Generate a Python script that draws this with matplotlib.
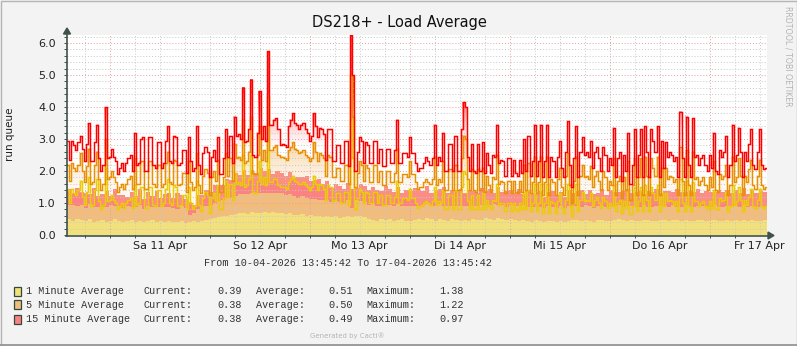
import numpy as np
import matplotlib

matplotlib.use("Agg")
import matplotlib.pyplot as plt
from matplotlib.colors import to_rgb
from matplotlib.lines import Line2D
from matplotlib.patches import Polygon, Rectangle

# stacked average areas, hourly, 10-04-2026 13:45:42 .. 17-04-2026 13:45:42
load_1min_area = [
    0.5, 0.45, 0.5, 0.48, 0.45, 0.5, 0.42, 0.45, 0.48, 0.42, 0.45, 0.5, 0.45, 0.42, 0.45, 0.48, 0.42, 0.45, 0.4, 0.45, 0.48, 0.42, 0.45, 0.42,
    0.45, 0.4, 0.42, 0.45, 0.38, 0.42, 0.45, 0.4, 0.45, 0.48, 0.5, 0.52, 0.55, 0.58, 0.6, 0.62, 0.65, 0.68, 0.7, 0.66, 0.72, 0.7, 0.68, 0.72,
    0.7, 0.72, 0.68, 0.7, 0.66, 0.68, 0.64, 0.62, 0.65, 0.6, 0.62, 0.58, 0.6, 0.56, 0.58, 0.55, 0.6, 0.52, 0.55, 0.6, 0.55, 0.58, 0.6, 0.55,
    0.5, 0.48, 0.45, 0.5, 0.46, 0.5, 0.45, 0.48, 0.5, 0.45, 0.44, 0.46, 0.5, 0.48, 0.52, 0.5, 0.45, 0.5, 0.48, 0.45, 0.5, 0.46, 0.45, 0.48,
    0.45, 0.5, 0.46, 0.48, 0.52, 0.5, 0.48, 0.52, 0.5, 0.46, 0.5, 0.48, 0.45, 0.48, 0.45, 0.42, 0.46, 0.44, 0.42, 0.45, 0.44, 0.42, 0.45, 0.42,
    0.45, 0.48, 0.46, 0.44, 0.48, 0.45, 0.42, 0.46, 0.48, 0.44, 0.45, 0.48, 0.5, 0.46, 0.45, 0.48, 0.44, 0.45, 0.48, 0.46, 0.44, 0.45, 0.48, 0.46,
    0.45, 0.48, 0.46, 0.44, 0.48, 0.45, 0.44, 0.48, 0.46, 0.44, 0.46, 0.48, 0.45, 0.44, 0.48, 0.45, 0.46, 0.44, 0.48, 0.45, 0.46, 0.45, 0.44, 0.46,
]
load_5min_area = [
    0.45, 0.5, 0.42, 0.45, 0.4, 0.48, 0.45, 0.42, 0.4, 0.45, 0.48, 0.4, 0.45, 0.42, 0.45, 0.4, 0.45, 0.48, 0.42, 0.45, 0.4, 0.45, 0.42, 0.45,
    0.42, 0.45, 0.4, 0.45, 0.45, 0.2, 0.25, 0.4, 0.45, 0.42, 0.45, 0.48, 0.5, 0.52, 0.55, 0.55, 0.58, 0.6, 0.58, 0.62, 0.6, 0.6, 0.62, 0.58,
    0.6, 0.58, 0.62, 0.6, 0.58, 0.6, 0.58, 0.55, 0.56, 0.55, 0.52, 0.55, 0.5, 0.52, 0.5, 0.48, 0.45, 0.5, 0.45, 0.48, 0.3, 0.5, 0.45, 0.48,
    0.45, 0.48, 0.45, 0.42, 0.48, 0.45, 0.45, 0.48, 0.42, 0.45, 0.48, 0.45, 0.42, 0.45, 0.45, 0.42, 0.45, 0.48, 0.42, 0.45, 0.42, 0.45, 0.45, 0.42,
    0.45, 0.42, 0.45, 0.45, 0.42, 0.45, 0.48, 0.42, 0.45, 0.42, 0.45, 0.42, 0.45, 0.45, 0.42, 0.45, 0.42, 0.45, 0.42, 0.45, 0.45, 0.42, 0.45, 0.42,
    0.45, 0.42, 0.45, 0.42, 0.45, 0.45, 0.42, 0.45, 0.42, 0.45, 0.45, 0.42, 0.45, 0.42, 0.45, 0.42, 0.45, 0.42, 0.45, 0.42, 0.45, 0.45, 0.42, 0.45,
    0.42, 0.45, 0.42, 0.45, 0.45, 0.42, 0.45, 0.42, 0.45, 0.45, 0.42, 0.45, 0.42, 0.45, 0.42, 0.45, 0.45, 0.42, 0.45, 0.42, 0.45, 0.42, 0.45, 0.42,
]
load_15min_area = [
    0.5, 0.35, 0.55, 0.4, 0.45, 0.3, 0.6, 0.35, 0.4, 0.5, 0.3, 0.55, 0.35, 0.4, 0.3, 0.45, 0.35, 0.5, 0.3, 0.45, 0.35, 0.5, 0.3, 0.4,
    0.45, 0.3, 0.5, 0.35, 0.3, 0.4, 0.25, 0.45, 0.35, 0.5, 0.4, 0.55, 0.5, 0.45, 0.6, 0.55, 0.7, 0.6, 0.75, 0.6, 0.7, 0.65, 0.8, 0.7,
    0.75, 0.6, 0.7, 0.65, 0.6, 0.7, 0.55, 0.65, 0.6, 0.7, 0.55, 0.6, 0.65, 0.5, 0.6, 0.45, 0.55, 0.5, 0.45, 0.55, 0.6, 0.4, 0.55, 0.5,
    0.45, 0.55, 0.5, 0.45, 0.6, 0.5, 0.45, 0.55, 0.4, 0.5, 0.45, 0.55, 0.5, 0.45, 0.55, 0.4, 0.5, 0.45, 0.6, 0.4, 0.5, 0.45, 0.55, 0.4,
    0.5, 0.45, 0.4, 0.55, 0.45, 0.5, 0.35, 0.55, 0.4, 0.5, 0.45, 0.4, 0.55, 0.35, 0.5, 0.45, 0.4, 0.5, 0.35, 0.45, 0.5, 0.4, 0.45, 0.35,
    0.5, 0.4, 0.45, 0.55, 0.35, 0.5, 0.45, 0.4, 0.55, 0.35, 0.5, 0.45, 0.4, 0.5, 0.55, 0.4, 0.45, 0.5, 0.35, 0.5, 0.45, 0.55, 0.4, 0.45,
    0.5, 0.4, 0.55, 0.45, 0.4, 0.5, 0.45, 0.55, 0.4, 0.5, 0.45, 0.4, 0.55, 0.45, 0.5, 0.4, 0.5, 0.45, 0.55, 0.4, 0.5, 0.45, 0.5, 0.45,
]

# stacked peak lines, half-hourly
peak_1min = [
    1.4, 1.0, 1.45, 1.3, 1.25, 1.4, 1.7, 1.2, 0.95, 1.35, 1.8, 0.9, 0.95, 1.4, 1.75, 1.05, 0.8, 0.95, 2.1, 1.05, 1.1, 1.25, 1.1, 1.0,
    0.8, 0.9, 1.0, 0.85, 1.0, 1.1, 1.15, 0.85, 1.55, 0.95, 1.0, 1.5, 1.5, 0.85, 0.85, 1.5, 1.5, 0.95, 0.9, 1.4, 1.4, 0.9, 1.0, 1.45,
    1.75, 1.0, 0.95, 1.55, 1.5, 0.9, 0.95, 1.25, 1.25, 0.8, 1.5, 1.0, 0.8, 0.9, 1.7, 0.95, 0.75, 1.15, 1.35, 1.25, 0.7, 1.15, 1.3, 1.05,
    1.55, 0.8, 0.8, 1.15, 1.7, 1.2, 1.6, 1.1, 1.95, 1.6, 1.65, 1.55, 2.5, 1.5, 1.55, 1.75, 2.5, 1.35, 1.3, 1.7, 2.3, 1.6, 1.8, 1.55,
    3.0, 1.65, 1.65, 1.75, 1.75, 1.55, 1.5, 1.5, 1.5, 1.45, 1.65, 1.75, 1.85, 1.7, 1.65, 1.6, 1.6, 1.65, 1.55, 1.5, 1.4, 1.5, 1.85, 1.6,
    1.4, 1.6, 1.55, 1.45, 1.1, 1.55, 1.5, 1.05, 1.1, 1.3, 1.3, 1.0, 1.0, 1.35, 1.35, 0.95, 3.6, 2.4, 0.8, 1.15, 1.45, 1.35, 1.0, 1.35,
    1.3, 1.0, 1.0, 1.35, 1.35, 1.0, 1.25, 0.95, 0.95, 1.25, 1.25, 1.0, 1.0, 1.2, 1.7, 1.0, 1.0, 1.15, 1.15, 1.1, 1.45, 1.15, 1.15, 1.0,
    0.85, 0.9, 0.9, 1.0, 1.05, 1.0, 0.95, 1.05, 1.5, 0.95, 1.05, 1.0, 1.4, 0.8, 0.8, 1.25, 1.25, 0.8, 1.4, 0.8, 0.8, 1.5, 2.0, 1.9,
    1.05, 0.8, 1.25, 0.8, 0.8, 1.25, 0.8, 1.3, 0.8, 1.1, 0.9, 0.8, 1.1, 1.05, 1.6, 0.95, 1.0, 1.0, 0.75, 1.0, 1.0, 0.75, 1.0, 0.8,
    0.75, 1.0, 0.8, 1.35, 0.8, 1.4, 0.75, 1.0, 1.6, 0.75, 1.0, 1.6, 0.7, 1.0, 1.6, 0.7, 1.05, 1.0, 0.7, 1.05, 1.3, 0.85, 0.7, 1.1,
    1.6, 0.9, 0.6, 1.0, 1.6, 0.75, 1.1, 1.35, 1.05, 1.1, 1.05, 1.3, 0.9, 1.1, 1.2, 1.0, 0.85, 1.2, 1.05, 0.85, 1.0, 0.9, 1.55, 0.75,
    1.0, 1.1, 0.7, 1.05, 0.85, 1.45, 0.65, 0.9, 1.5, 0.75, 1.05, 1.5, 0.75, 1.55, 1.1, 0.75, 1.5, 1.3, 1.1, 1.55, 0.75, 1.3, 0.9, 1.3,
    1.05, 1.1, 1.05, 0.95, 1.05, 0.75, 1.75, 1.0, 0.75, 1.7, 0.9, 0.75, 1.65, 1.05, 1.05, 0.9, 1.0, 1.05, 0.9, 0.8, 1.05, 0.85, 1.4, 0.8,
    0.8, 1.15, 1.05, 1.1, 1.35, 0.75, 0.9, 1.55, 0.95, 1.05, 1.5, 1.1, 0.75, 1.1, 0.95, 1.2, 1.45, 0.9, 0.85, 1.1, 1.45, 0.9, 0.85, 0.9,
]
peak_5min = [
    2.2, 1.7, 2.25, 2.1, 2.0, 2.2, 2.55, 2.0, 1.65, 2.15, 2.7, 1.6, 1.65, 2.2, 2.6, 1.75, 1.4, 1.6, 3.0, 1.75, 1.8, 2.0, 1.8, 1.65,
    1.35, 1.5, 1.6, 1.45, 1.6, 1.75, 1.85, 1.45, 2.4, 1.6, 1.6, 2.3, 2.3, 1.45, 1.45, 2.3, 2.3, 1.6, 1.5, 2.2, 2.2, 1.5, 1.6, 2.25,
    2.6, 1.65, 1.6, 2.35, 2.3, 1.55, 1.6, 1.95, 1.95, 1.35, 2.3, 1.65, 1.4, 1.5, 2.55, 1.55, 1.3, 1.85, 2.05, 1.95, 1.25, 1.8, 2.0, 1.7,
    2.35, 1.35, 1.35, 1.8, 2.55, 1.85, 2.4, 1.7, 2.85, 2.4, 2.45, 2.35, 3.6, 2.25, 2.3, 2.6, 3.7, 1.95, 1.9, 2.5, 3.4, 2.35, 2.65, 2.3,
    4.3, 2.65, 2.65, 2.75, 2.8, 2.5, 2.45, 2.45, 2.4, 2.35, 2.65, 2.75, 2.9, 2.7, 2.65, 2.55, 2.6, 2.65, 2.5, 2.45, 2.3, 2.4, 2.9, 2.6,
    2.3, 2.55, 2.5, 2.4, 1.85, 2.5, 2.45, 1.8, 1.8, 2.1, 2.1, 1.7, 1.7, 2.2, 2.2, 1.6, 5.0, 3.7, 1.5, 1.95, 2.3, 2.2, 1.7, 2.2,
    2.1, 1.65, 1.65, 2.2, 2.2, 1.65, 2.0, 1.55, 1.55, 2.0, 2.0, 1.65, 1.65, 1.95, 2.7, 1.65, 1.65, 1.9, 1.9, 1.8, 2.3, 1.9, 1.9, 1.65,
    1.45, 1.5, 1.5, 1.65, 1.75, 1.65, 1.6, 1.75, 2.45, 1.55, 1.75, 1.65, 2.3, 1.4, 1.4, 2.05, 2.05, 1.4, 2.2, 1.4, 1.4, 2.4, 3.1, 3.0,
    1.75, 1.4, 2.05, 1.4, 1.35, 2.05, 1.4, 2.1, 1.35, 1.85, 1.55, 1.35, 1.8, 1.75, 2.5, 1.6, 1.7, 1.65, 1.3, 1.7, 1.7, 1.3, 1.7, 1.35,
    1.3, 1.7, 1.35, 2.2, 1.4, 2.25, 1.3, 1.65, 2.45, 1.3, 1.65, 2.45, 1.25, 1.65, 2.45, 1.25, 1.75, 1.65, 1.25, 1.75, 2.1, 1.5, 1.25, 1.85,
    2.55, 1.55, 1.0, 1.7, 2.45, 1.25, 1.85, 2.2, 1.8, 1.85, 1.75, 2.15, 1.5, 1.85, 2.0, 1.7, 1.4, 2.0, 1.8, 1.4, 1.7, 1.55, 2.4, 1.25,
    1.7, 1.85, 1.15, 1.8, 1.4, 2.3, 1.1, 1.55, 2.4, 1.25, 1.8, 2.4, 1.25, 2.45, 1.85, 1.25, 2.4, 2.1, 1.85, 2.45, 1.25, 2.1, 1.5, 2.1,
    1.75, 1.85, 1.8, 1.65, 1.75, 1.25, 2.75, 1.7, 1.25, 2.65, 1.55, 1.25, 2.6, 1.75, 1.8, 1.55, 1.7, 1.8, 1.55, 1.4, 1.8, 1.5, 2.3, 1.4,
    1.35, 1.9, 1.75, 1.85, 2.2, 1.25, 1.55, 2.45, 1.65, 1.8, 2.4, 1.85, 1.25, 1.85, 1.65, 2.05, 2.35, 1.55, 1.45, 1.85, 2.35, 1.55, 1.45, 1.5,
]
peak_15min = [
    2.95, 2.35, 2.95, 2.8, 2.65, 2.9, 3.1, 2.7, 2.3, 2.85, 3.5, 2.3, 2.3, 2.9, 3.45, 2.4, 2.0, 2.2, 4.0, 2.4, 2.45, 2.7, 2.45, 2.3,
    1.9, 2.1, 2.25, 2.0, 2.25, 2.4, 2.5, 2.0, 3.2, 2.2, 2.25, 3.0, 3.05, 2.0, 2.0, 3.05, 3.05, 2.2, 2.1, 2.9, 2.9, 2.1, 2.25, 2.95,
    3.4, 2.3, 2.25, 3.1, 3.05, 2.2, 2.25, 2.65, 2.65, 1.95, 3.05, 2.3, 2.0, 2.1, 3.4, 2.2, 1.9, 2.55, 2.75, 2.6, 1.8, 2.45, 2.65, 2.3,
    3.05, 1.9, 1.9, 2.4, 3.3, 2.45, 3.1, 2.25, 3.7, 3.1, 3.15, 3.0, 4.6, 2.9, 2.95, 3.3, 4.85, 2.5, 2.45, 3.2, 4.5, 3.0, 3.4, 2.95,
    5.75, 3.45, 3.45, 3.6, 3.65, 3.3, 2.8, 2.85, 2.8, 2.75, 3.4, 3.6, 3.8, 3.5, 3.45, 3.3, 3.45, 3.5, 3.3, 3.2, 2.95, 3.1, 3.8, 3.4,
    3.05, 3.35, 3.3, 3.15, 2.35, 3.3, 3.3, 2.3, 2.3, 2.8, 2.8, 2.25, 2.25, 2.95, 2.95, 2.15, 6.25, 5.0, 2.0, 2.6, 3.05, 2.95, 2.25, 2.9,
    2.8, 2.25, 2.25, 2.95, 2.95, 2.25, 2.7, 2.15, 2.15, 2.7, 2.7, 2.25, 2.25, 2.65, 3.6, 2.25, 2.25, 2.55, 2.55, 2.45, 3.05, 2.55, 2.55, 2.25,
    2.0, 2.1, 2.1, 2.25, 2.45, 2.3, 2.2, 2.4, 3.45, 2.2, 2.45, 2.3, 3.2, 2.0, 2.0, 2.85, 2.85, 2.0, 3.1, 2.0, 2.0, 3.3, 4.15, 4.0,
    2.45, 2.0, 2.85, 2.0, 1.95, 2.85, 2.0, 2.9, 1.95, 2.55, 2.2, 1.95, 2.5, 2.45, 3.45, 2.25, 2.35, 2.3, 1.85, 2.4, 2.4, 1.85, 2.35, 1.95,
    1.85, 2.35, 1.95, 3.0, 2.0, 3.1, 1.85, 2.3, 3.45, 1.85, 2.3, 3.45, 1.8, 2.3, 3.45, 1.8, 2.45, 2.3, 1.8, 2.45, 2.95, 2.1, 1.8, 2.6,
    3.55, 2.2, 1.5, 2.4, 3.4, 1.8, 2.6, 3.05, 2.5, 2.6, 2.45, 2.95, 2.1, 2.6, 2.75, 2.4, 2.0, 2.75, 2.5, 2.0, 2.4, 2.2, 3.35, 1.8,
    2.4, 2.6, 1.7, 2.5, 2.0, 3.2, 1.6, 2.2, 3.3, 1.8, 2.5, 3.3, 1.8, 3.4, 2.6, 1.8, 3.3, 2.95, 2.6, 3.4, 1.8, 2.95, 2.1, 2.9,
    2.45, 2.6, 2.5, 2.3, 2.45, 1.8, 3.85, 2.4, 1.8, 3.7, 2.2, 1.8, 3.65, 2.45, 2.5, 2.2, 2.4, 2.5, 2.2, 2.0, 2.5, 2.1, 3.2, 2.0,
    1.9, 2.65, 2.45, 2.6, 3.1, 1.8, 2.2, 3.45, 2.3, 2.5, 3.35, 2.6, 1.8, 2.6, 2.3, 2.85, 3.3, 2.2, 2.05, 2.6, 3.3, 2.2, 2.05, 2.1,
]

day_labels = ["Sa 11 Apr", "So 12 Apr", "Mo 13 Apr", "Di 14 Apr", "Mi 15 Apr", "Do 16 Apr", "Fr 17 Apr"]
first_midnight = 10 + 14 / 60 + 18 / 3600  # hours from start to 11-04 00:00

series_names = ["1 Minute Average", "5 Minute Average", "15 Minute Average"]
current_vals = [0.39, 0.38, 0.38]
average_vals = [0.51, 0.50, 0.49]
maximum_vals = [1.38, 1.22, 0.97]

AREA_COLORS = ["#f2e07c", "#f1bc7c", "#fc8282"]
LINE_COLORS = ["#eacc00", "#ea8f00", "#ff0000"]
AXIS_COLOR = "#3f5249"
W, H = 797, 346
SPAN = 168
YMAX = 6.25

for arr in (load_1min_area, load_5min_area, load_15min_area):
    assert len(arr) == SPAN, len(arr)
for arr in (peak_1min, peak_5min, peak_15min):
    assert len(arr) == 2 * SPAN, len(arr)


def fx(x):
    return x / W


def fy(y):
    return 1 - y / H


def gradient_band(ax, lower, upper, edges, color, lo, hi, a_min, a_max, hot=None):
    """Fill between two step series in thin horizontal slices whose
    colour and opacity depend on height."""
    lower = np.minimum(lower, upper)
    c0 = np.array(to_rgb(color))
    c1 = np.array(to_rgb(hot)) if hot else c0
    bounds = np.arange(0, YMAX + 1e-9, YMAX / 100)
    for v0, v1 in zip(bounds[:-1], bounds[1:]):
        top = np.clip(upper, v0, v1)
        bot = np.clip(lower, v0, v1)
        if not np.any(top > bot):
            continue
        t = float(np.clip(((v0 + v1) / 2 - lo) / (hi - lo), 0, 1))
        alpha = a_min + (a_max - a_min) * t
        if alpha <= 0.01:
            continue
        rgb = c0 * (1 - t) + c1 * t
        ax.stairs(top, edges, baseline=bot, fill=True, facecolor=rgb, alpha=alpha,
                  edgecolor="none", lw=0, antialiased=False, zorder=1.5)


fig = plt.figure(figsize=(W / 100, H / 100), dpi=100)
fig.patch.set_facecolor("#f3f3f3")
ax = fig.add_axes([fx(67), fy(235), 700 / W, 200 / H])
ax.set_facecolor("white")

edges_h = np.arange(SPAN + 1)
a1 = np.array(load_1min_area)
a2 = a1 + np.array(load_5min_area)
a3 = a2 + np.array(load_15min_area)
ax.stairs(a1, edges_h, baseline=0, fill=True, color=AREA_COLORS[0], lw=0, zorder=1)
ax.stairs(a2, edges_h, baseline=a1, fill=True, color=AREA_COLORS[1], lw=0, zorder=1)
ax.stairs(a3, edges_h, baseline=a2, fill=True, color=AREA_COLORS[2], lw=0, zorder=1)

edges_p = np.arange(2 * SPAN + 1) * 0.5
p1 = np.array(peak_1min)
p2 = np.array(peak_5min)
p3 = np.array(peak_15min)
top_area = np.repeat(a3, 2)
gradient_band(ax, np.minimum(top_area, p1), p1, edges_p, "#f3dc6a", 1.0, 2.5, 0.2, 0.5)
gradient_band(ax, p1, p2, edges_p, "#f6cc90", 1.6, 3.6, 0.15, 0.7, hot="#ef9a2a")
gradient_band(ax, p2, p3, edges_p, "#ffb0b0", 2.7, 4.5, 0.0, 0.85, hot="#ff2a2a")

# grid
for v in np.arange(0.2, YMAX, 0.2):
    major = abs(v - round(v)) < 1e-6
    ax.axhline(v, color="#e2a0a0" if major else "#c8c8c8", lw=0.7,
               ls=(0, (1, 2)), zorder=2)
for h in np.arange(first_midnight - 6, SPAN, 6):
    major = abs((h - first_midnight) % 24) < 1e-6
    ax.axvline(h, color="#e2a0a0" if major else "#c8c8c8", lw=0.7,
               ls=(0, (1, 2)), zorder=2)

# peak lines drawn as steps
for vals, c in zip((p1, p2, p3), LINE_COLORS):
    ax.plot(edges_p, np.append(vals, vals[-1]), drawstyle="steps-post", color=c,
            lw=1.05, solid_joinstyle="miter", zorder=3)

ax.set_xlim(0, SPAN)
ax.set_ylim(0, YMAX)
for s in ("top", "right", "left", "bottom"):
    ax.spines[s].set_visible(False)

noon = [first_midnight + 12 + 24 * i for i in range(len(day_labels))]
ax.set_xticks(noon)
ax.set_xticklabels(day_labels)
ax.set_xticks(np.arange(first_midnight - 6, SPAN, 6), minor=True)
ax.tick_params(axis="x", which="major", length=0, pad=4, labelsize=8, labelcolor="#222222")
ax.tick_params(axis="x", which="minor", length=2, width=0.7, color=AXIS_COLOR)
ax.set_yticks(np.arange(0, 7, 1.0))
ax.set_yticklabels([f"{v:.1f}" for v in np.arange(0, 7, 1.0)])
ax.set_yticks(np.arange(0, YMAX, 0.2), minor=True)
ax.tick_params(axis="y", which="major", length=2, width=0.7, color=AXIS_COLOR, pad=6,
               labelsize=8, labelcolor="#222222")
ax.tick_params(axis="y", which="minor", length=2, width=0.7, color=AXIS_COLOR)

# axes with arrow heads
fig.add_artist(Line2D([fx(67), fx(67)], [fy(235.5), fy(32)], color=AXIS_COLOR, lw=1.2))
fig.add_artist(Line2D([fx(66), fx(770)], [fy(235.5), fy(235.5)], color=AXIS_COLOR, lw=1.2))
fig.add_artist(Polygon([[fx(67), fy(28)], [fx(63.5), fy(34)], [fx(70.5), fy(34)]],
                       closed=True, color=AXIS_COLOR, transform=fig.transFigure))
fig.add_artist(Polygon([[fx(774), fy(235.5)], [fx(768), fy(232)], [fx(768), fy(239)]],
                       closed=True, color=AXIS_COLOR, transform=fig.transFigure))

fig.text(fx(399), fy(22), "DS218+ - Load Average", ha="center", va="center",
         fontsize=10.5, color="#111111")
fig.text(fx(10), fy(134), "run queue", ha="center", va="center", rotation=90,
         fontsize=7.5, color="#222222")
fig.text(fx(788), fy(56), "RRDTOOL / TOBI OETIKER", ha="center", va="center",
         rotation=-90, fontsize=5.7, color="#b4b4b4")

mono = "Liberation Mono"
fig.text(fx(204), fy(263.5), "From 10-04-2026 13:45:42 To 17-04-2026 13:45:42",
         ha="left", va="center", family=mono, fontsize=7.3, color="#333333")

rows_y = [291, 304.5, 319]
for i, y in enumerate(rows_y):
    fig.add_artist(Rectangle((fx(13.5), fy(y + 4.5)), 7 / W, 9 / H, transform=fig.transFigure,
                             facecolor=AREA_COLORS[i], edgecolor="#2f4a3c", lw=0.9))
    kw = dict(va="center", family=mono, fontsize=7.3, color="#333333")
    fig.text(fx(26.5), fy(y), series_names[i], ha="left", **kw)
    fig.text(fx(144), fy(y), "Current:", ha="left", **kw)
    fig.text(fx(241.5), fy(y), f"{current_vals[i]:.2f}", ha="right", **kw)
    fig.text(fx(255.5), fy(y), "Average:", ha="left", **kw)
    fig.text(fx(352.5), fy(y), f"{average_vals[i]:.2f}", ha="right", **kw)
    fig.text(fx(366.5), fy(y), "Maximum:", ha="left", **kw)
    fig.text(fx(463.5), fy(y), f"{maximum_vals[i]:.2f}", ha="right", **kw)

fig.text(fx(347), fy(335.5), "Generated by Cacti®", ha="center", va="center",
         fontsize=5, color="#b4b4b4")

# outer frame
fig.add_artist(Rectangle((0.5 / W, 0.5 / H), (W - 1) / W, (H - 1) / H, transform=fig.transFigure,
                         facecolor="none", edgecolor="#b5b5b5", lw=1))
fig.add_artist(Line2D([0, 1], [0.8 / H, 0.8 / H], color="#8e8e8e", lw=1.2))

fig.savefig("out.png", dpi=100, facecolor=fig.get_facecolor())
